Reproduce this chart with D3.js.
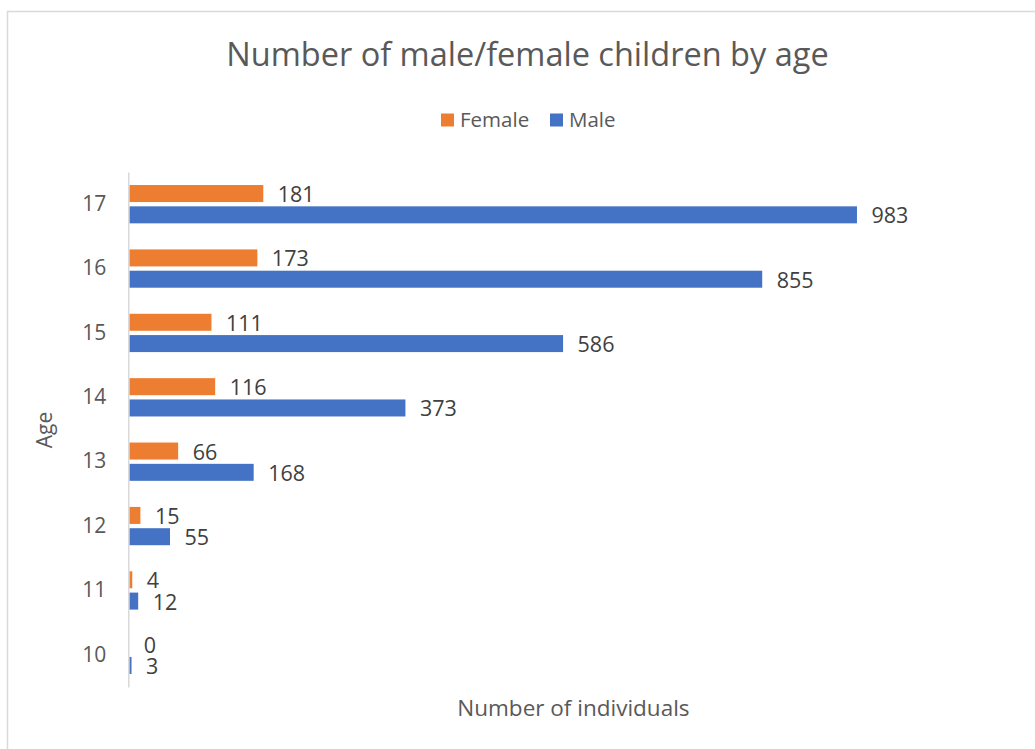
<!DOCTYPE html>
<html>
<head>
<meta charset="utf-8">
<script src="https://cdn.jsdelivr.net/npm/d3@7"></script>
<style>
  html, body { margin: 0; padding: 0; background: #fff; }
  svg { display: block; font-family: "Open Sans", "Noto Sans", sans-serif; }
</style>
</head>
<body>
<svg id="chart" width="1035" height="749"></svg>
<script>
const ages = ["10", "11", "12", "13", "14", "15", "16", "17"];
const female = [0, 4, 15, 66, 116, 111, 173, 181];
const male = [3, 12, 55, 168, 373, 586, 855, 983];
const seriesNames = ["Female", "Male"];
const seriesColors = ["#ED7D31", "#4472C4"];
const xDomain = [0, 1200];

const svg = d3.select("#chart");

// chart border
svg.append("rect")
  .attr("x", 7.5).attr("y", 11.5)
  .attr("width", 1100).attr("height", 800)
  .attr("fill", "none").attr("stroke", "#d9d9d9").attr("stroke-width", 1.5);

const plot = { left: 129.3, right: 1017.6, top: 172, bottom: 687 };

const x = d3.scaleLinear().domain(xDomain).range([plot.left, plot.right]);
const y = d3.scaleBand().domain(ages.slice().reverse()).range([plot.top, plot.bottom]).paddingInner(0).paddingOuter(0);

const barH = 17;
const barGap = 4.3;

const data = ages.map((a, i) => ({ age: a, values: [female[i], male[i]] }));

const g = svg.append("g");

data.forEach(d => {
  const cy = y(d.age) + y.bandwidth() / 2;
  d.values.forEach((v, s) => {
    const top = s === 0 ? cy - barGap / 2 - barH : cy + barGap / 2;
    g.append("rect")
      .attr("x", x(0))
      .attr("y", top)
      .attr("width", Math.max(0, x(v) - x(0)))
      .attr("height", barH)
      .attr("fill", seriesColors[s]);
    g.append("text")
      .attr("x", x(v) + 14.5)
      .attr("y", top + barH / 2 + 1)
      .attr("dy", "0.35em")
      .attr("font-size", 21.5)
      .attr("fill", "#404040")
      .text(v);
  });
});

// y axis line + labels
const yAxis = d3.axisLeft(y).tickSize(0).tickPadding(22);
const yg = svg.append("g").attr("transform", `translate(${plot.left - 1},0)`).call(yAxis);
yg.select(".domain").attr("stroke", "#d9d9d9").attr("stroke-width", 1.5);
yg.selectAll("text").attr("font-size", 21).attr("fill", "#595959").attr("font-family", "Open Sans");

// title
svg.append("text")
  .attr("x", 527.5).attr("y", 66)
  .attr("text-anchor", "middle")
  .attr("font-size", 32.5)
  .attr("fill", "#595959")
  .text("Number of male/female children by age");

// legend
const legend = svg.append("g");
const legendItems = [{ name: seriesNames[0], color: seriesColors[0], x: 441 }, { name: seriesNames[1], color: seriesColors[1], x: 550 }];
legendItems.forEach(it => {
  legend.append("rect").attr("x", it.x).attr("y", 113.5).attr("width", 13).attr("height", 13).attr("fill", it.color);
  legend.append("text").attr("x", it.x + 19).attr("y", 120).attr("dy", "0.35em")
    .attr("font-size", 20.5).attr("fill", "#595959").text(it.name);
});

// axis titles
svg.append("text")
  .attr("x", (plot.left + plot.right) / 2).attr("y", 716)
  .attr("text-anchor", "middle")
  .attr("font-size", 22.5)
  .attr("fill", "#595959")
  .text("Number of individuals");

svg.append("text")
  .attr("transform", "translate(52,430) rotate(-90)")
  .attr("text-anchor", "middle")
  .attr("font-size", 21)
  .attr("fill", "#595959")
  .text("Age");
</script>
</body>
</html>
